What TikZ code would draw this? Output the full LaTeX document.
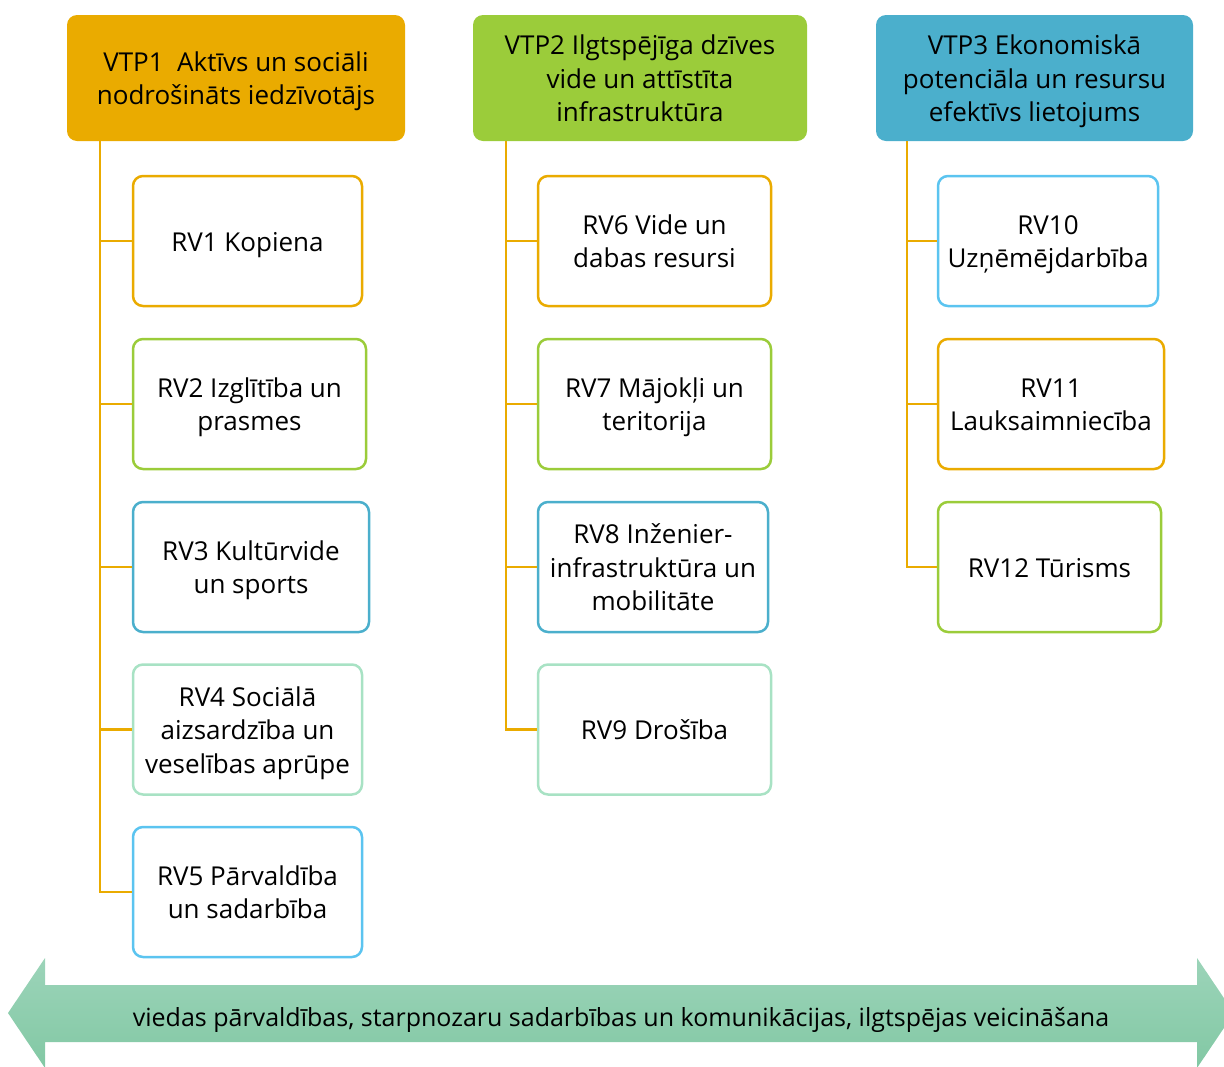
\documentclass[tikz,border=0pt]{standalone}
\usepackage{fontspec}
\setmainfont{Open Sans}
\definecolor{corange}{HTML}{EAAB00}
\definecolor{cgreen}{HTML}{9BCC3A}
\definecolor{cteal}{HTML}{4BAFCC}
\definecolor{clgreen}{HTML}{A8E2C4}
\definecolor{clblue}{HTML}{5BC4F0}
\definecolor{carrowA}{HTML}{9CD4B9}
\definecolor{carrowB}{HTML}{82C8A4}
\newcommand\boxtxt[1]{\raisebox{0pt}[\dimexpr\height+7pt\relax][\depth]{\begin{tabular}{@{}c@{}}#1\end{tabular}}}
\tikzset{
  head/.style={rounded corners=10pt, minimum height=126pt, inner sep=0pt,
    font=\fontsize{26}{33.5}\selectfont},
  rv/.style={draw=#1, line width=2.5pt, rounded corners=10pt, fill=white, minimum height=130pt,
    inner sep=0pt, font=\fontsize{26}{33.5}\selectfont},
  link/.style={draw=corange, line width=2.5pt},
}
\begin{document}
\begin{tikzpicture}[x=1pt,y=-1pt]
\useasboundingbox (0,0) rectangle (1224,1066);
\clip (0,0) rectangle (1224,1066);
% headers
\node[head, fill=corange, minimum width=338pt] (v1) at (236,78) {\boxtxt{VTP1\ \ Aktīvs un sociāli\\nodrošināts iedzīvotājs}};
\node[head, fill=cgreen, minimum width=334pt] (v2) at (640,78) {\boxtxt{VTP2 Ilgtspējīga dzīves\\vide un attīstīta\\infrastruktūra}};
\node[head, fill=cteal, minimum width=317pt] (v3) at (1034.5,78) {\boxtxt{VTP3 Ekonomiskā\\potenciāla un resursu\\efektīvs lietojums}};
% column 1
\node[rv=corange, minimum width=229pt] (r1) at (247.5,241) {\boxtxt{RV1 Kopiena}};
\node[rv=cgreen, minimum width=233pt] (r2) at (249.5,404) {\boxtxt{RV2 Izglītība un\\prasmes}};
\node[rv=cteal, minimum width=236pt] (r3) at (251,567) {\boxtxt{RV3 Kultūrvide\\un sports}};
\node[rv=clgreen, minimum width=229pt] (r4) at (247.5,729.5) {\boxtxt{RV4 Sociālā\\aizsardzība un\\veselības aprūpe}};
\node[rv=clblue, minimum width=229pt] (r5) at (247.5,892) {\boxtxt{RV5 Pārvaldība\\un sadarbība}};
% column 2
\node[rv=corange, minimum width=233pt] (r6) at (654.5,241) {\boxtxt{RV6 Vide un\\dabas resursi}};
\node[rv=cgreen, minimum width=233pt] (r7) at (654.5,404) {\boxtxt{RV7 Mājokļi un\\teritorija}};
\node[rv=cteal, minimum width=230pt] (r8) at (653,567) {\boxtxt{RV8 Inženier-\\infrastruktūra un\\mobilitāte}};
\node[rv=clgreen, minimum width=233pt] (r9) at (654.5,729.5) {\boxtxt{RV9 Drošība}};
% column 3
\node[rv=clblue, minimum width=220pt] (r10) at (1048,241) {\boxtxt{RV10\\Uzņēmējdarbība}};
\node[rv=corange, minimum width=226pt] (r11) at (1051,404) {\boxtxt{RV11\\Lauksaimniecība}};
\node[rv=cgreen, minimum width=223pt] (r12) at (1049.5,567) {\boxtxt{RV12 Tūrisms}};
% connectors
\coordinate (c1) at (100,0);
\coordinate (c2) at (506,0);
\coordinate (c3) at (907,0);
\draw[link] (v1.south -| c1) -- (r5.west -| c1) -- (r5.west);
\foreach \n in {r1,r2,r3,r4} \draw[link] (\n.west -| c1) -- (\n.west);
\draw[link] (v2.south -| c2) -- (r9.west -| c2) -- (r9.west);
\foreach \n in {r6,r7,r8} \draw[link] (\n.west -| c2) -- (\n.west);
\draw[link] (v3.south -| c3) -- (r12.west -| c3) -- (r12.west);
\foreach \n in {r10,r11} \draw[link] (\n.west -| c3) -- (\n.west);
% bottom double arrow
\shade[top color=carrowA, bottom color=carrowB]
  (8,1013) -- (45,958) -- (45,985) -- (1197,985) -- (1197,958) -- (1234,1013)
  -- (1197,1068) -- (1197,1042) -- (45,1042) -- (45,1068) -- cycle;
\node[font=\fontsize{25}{30}\selectfont, inner sep=0pt] (band) at (621,1020) {viedas pārvaldības, starpnozaru sadarbības un komunikācijas, ilgtspējas veicināšana};
\end{tikzpicture}
\end{document}
